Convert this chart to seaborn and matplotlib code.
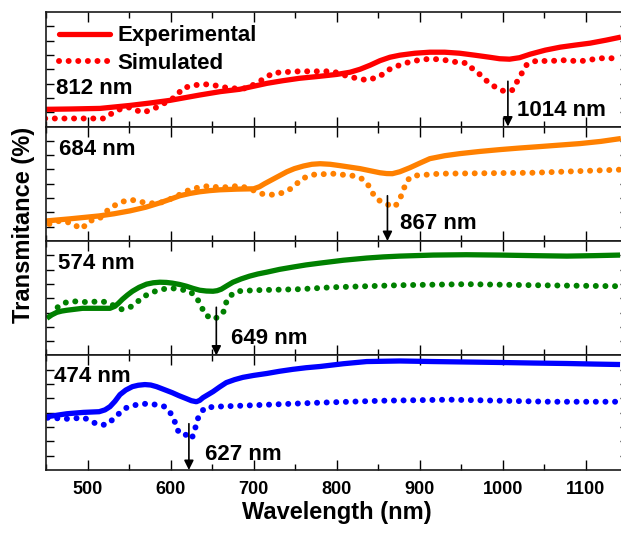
import matplotlib
matplotlib.use("Agg")
import numpy as np
import pandas as pd
import seaborn as sns
import matplotlib.pyplot as plt
from matplotlib.lines import Line2D
from matplotlib.ticker import MultipleLocator

# ---------------- data (arbitrary offset units) ----------------
# Panel 1 : 812 nm (red)
wl_exp_812 = [450, 480, 515, 551, 575, 599, 635, 660, 683, 716, 735, 755, 780, 800, 816, 828, 840, 852, 864, 876,
              894, 912, 930, 948, 966, 984, 996, 1008, 1020, 1033, 1051, 1069, 1087, 1105, 1124, 1142]
t_exp_812 = [15.0, 15.3, 15.8, 18.4, 20.5, 22.8, 27.5, 30.5, 32.5, 37.7, 40.0, 42.1, 43.9, 45.5, 47.4, 50.0, 53.5, 57.5, 60.5, 62.3,
             64.0, 64.9, 64.9, 64.0, 62.3, 60.5, 59.2, 58.8, 60.1, 63.2, 66.7, 69.3, 71.1, 72.8, 75.4, 78.1]
wl_sim_812 = [449, 470, 490, 511, 520, 527, 541, 551, 565, 571, 583, 590, 596, 607, 614, 623, 635, 647, 659, 671,
              692, 707, 716, 722, 734, 755, 795, 813, 824, 837, 852, 861, 872, 882, 892, 904, 924, 945, 957, 964,
              972, 981, 993, 1002, 1011, 1018, 1024, 1029, 1042, 1053, 1072, 1093, 1117, 1141]
t_sim_812 = [7.0, 7.0, 7.0, 7.0, 7.0, 10.5, 15.8, 16.7, 12.3, 13.2, 16.7, 19.3, 21.9, 26.3, 33.3, 35.1, 36.8, 36.8, 35.1, 33.3,
             33.3, 39.5, 43.0, 46.5, 47.4, 48.2, 48.2, 43.9, 42.1, 40.4, 43.9, 49.1, 52.6, 55.3, 57.0, 58.8, 58.8, 56.1, 55.3, 50.0,
             45.6, 39.5, 33.3, 30.7, 31.6, 40.4, 48.2, 54.4, 57.9, 57.0, 57.9, 57.0, 59.6, 59.6]

# Panel 2 : 684 nm (orange)
wl_exp_684 = [450, 478, 514, 532, 551, 570, 587, 600, 611, 623, 635, 647, 659, 680, 700, 707, 713, 722, 731, 740,
              749, 760, 770, 780, 792, 804, 816, 828, 840, 852, 860, 867, 876, 888, 900, 912, 930, 948, 972, 996,
              1020, 1045, 1069, 1093, 1118, 1142]
t_exp_684 = [17.5, 19.3, 21.9, 23.8, 26.3, 29.5, 33.3, 36.6, 39.5, 41.5, 43.0, 44.0, 44.7, 45.3, 45.6, 47.4, 50.0, 53.5, 57.0, 60.5,
             63.2, 65.5, 67.0, 67.5, 67.0, 65.8, 64.5, 63.2, 61.4, 59.6, 58.9, 58.8, 60.5, 64.0, 68.0, 71.9, 74.5, 76.3, 78.2, 79.8,
             81.2, 82.5, 83.8, 85.1, 87.0, 89.5]
wl_sim_684 = [454, 466, 481, 490, 493, 502, 514, 527, 541, 553, 563, 583, 595, 613, 625, 647, 659, 683, 695, 710,
              723, 735, 747, 758, 771, 795, 819, 830, 837, 842, 848, 858, 870, 876, 880, 884, 892, 924, 1036, 1141]
t_sim_684 = [14.9, 17.5, 15.8, 11.4, 10.5, 17.5, 19.3, 28.9, 34.2, 36.0, 34.2, 32.5, 35.1, 41.2, 45.6, 48.2, 46.5, 48.2, 45.6, 41.2,
             40.4, 42.1, 46.5, 54.4, 57.9, 58.8, 57.0, 54.4, 50.0, 43.0, 36.8, 32.5, 29.8, 36.8, 43.9, 52.6, 57.0, 58.8, 59.6, 62.3]

# Panel 3 : 574 nm (green)
wl_exp_574 = [451, 457, 463, 469, 475, 494, 510, 527, 533, 537, 542, 548, 554, 562, 571, 579, 587, 595, 602, 611,
              619, 627, 635, 643, 651, 656, 661, 668, 675, 685, 695, 705, 716, 731, 747, 763, 780, 808, 836, 856,
              876, 916, 956, 996, 1037, 1077, 1110, 1141]
t_exp_574 = [32.5, 35.5, 37.7, 38.8, 39.5, 41.2, 41.2, 41.2, 43.0, 45.5, 49.1, 52.8, 56.1, 59.5, 62.3, 63.5, 64.0, 63.8, 63.2, 62.0,
             60.5, 58.6, 57.0, 56.3, 56.1, 56.6, 57.9, 61.0, 64.0, 66.9, 69.3, 71.2, 72.8, 75.2, 77.2, 79.1, 80.7, 83.2, 85.1, 86.1,
             86.8, 87.7, 88.0, 87.7, 87.2, 86.8, 87.2, 87.7]
wl_sim_574 = [464, 470, 481, 502, 514, 524, 533, 541, 551, 557, 566, 578, 590, 601, 611, 623, 631, 637, 641, 645,
              651, 659, 664, 667, 671, 680, 701, 755, 795, 836, 876, 957, 1036, 1141]
t_sim_574 = [42.1, 45.6, 47.4, 46.5, 47.4, 46.5, 43.0, 40.4, 42.1, 44.7, 50.9, 55.3, 57.9, 58.8, 57.9, 56.1, 50.9, 43.0, 36.0, 34.2,
             31.6, 34.2, 38.6, 46.5, 51.8, 56.1, 57.0, 57.9, 59.6, 60.5, 61.4, 62.3, 61.4, 60.5]

# Panel 4 : 474 nm (blue)
wl_exp_474 = [451, 475, 495, 514, 521, 527, 533, 539, 546, 554, 561, 569, 576, 583, 592, 602, 610, 619, 625, 631,
              635, 639, 645, 651, 659, 667, 677, 687, 700, 716, 731, 747, 763, 780, 808, 836, 876, 916, 956, 996,
              1037, 1077, 1110, 1141]
t_exp_474 = [46.5, 49.1, 50.3, 50.9, 52.5, 55.3, 60.0, 65.8, 69.8, 72.8, 74.0, 74.6, 74.2, 72.8, 70.3, 67.5, 64.9, 62.3, 60.5, 59.6,
             60.8, 63.2, 65.8, 68.4, 72.5, 76.3, 78.9, 80.9, 82.6, 84.3, 86.2, 87.9, 89.3, 90.4, 92.8, 94.7, 95.2, 94.7, 94.3, 93.9,
             93.4, 93.0, 92.5, 92.1]
wl_sim_474 = [452, 475, 496, 505, 514, 523, 530, 539, 547, 559, 571, 583, 593, 599, 605, 608, 613, 619, 625, 629,
              631, 635, 641, 655, 716, 780, 855, 936, 996, 1057, 1141]
t_sim_474 = [45.6, 44.7, 45.6, 42.1, 39.5, 39.5, 43.9, 50.0, 54.4, 57.0, 57.9, 57.0, 55.3, 50.9, 42.1, 35.1, 30.7, 30.7, 27.2, 33.3,
             42.1, 48.2, 54.4, 55.3, 57.0, 58.8, 60.5, 61.4, 60.5, 59.6, 59.6]

panel_labels = ["812 nm", "684 nm", "574 nm", "474 nm"]
peak_labels = ["1014 nm", "867 nm", "649 nm", "627 nm"]
peak_pos = [1006, 861, 655, 622]
colors = ["#FF0000", "#FF8000", "#008000", "#0000FF"]
legend_labels = ["Experimental", "Simulated"]
x_ticks = [500, 600, 700, 800, 900, 1000, 1100]

# ---------------- style ----------------
sns.set_style("ticks")
plt.rcParams["font.family"] = ["Liberation Sans", "DejaVu Sans"]
plt.rcParams["font.weight"] = "bold"
plt.rcParams["axes.labelweight"] = "bold"
plt.rcParams["text.color"] = "black"
plt.rcParams["axes.labelcolor"] = "black"
plt.rcParams["xtick.color"] = "black"
plt.rcParams["ytick.color"] = "black"
plt.rcParams["axes.edgecolor"] = "black"

fig, axes = plt.subplots(4, 1, figsize=(6.21, 5.34), dpi=100, sharex=True)
fig.subplots_adjust(left=0.0741, right=1.0105, top=0.9775, bottom=0.1199, hspace=0)

exp_sets = [(wl_exp_812, t_exp_812), (wl_exp_684, t_exp_684), (wl_exp_574, t_exp_574), (wl_exp_474, t_exp_474)]
sim_sets = [(wl_sim_812, t_sim_812), (wl_sim_684, t_sim_684), (wl_sim_574, t_sim_574), (wl_sim_474, t_sim_474)]
arrow_tops = [39.5, 39.5, 42.1, 40.4]
peak_text_pos = [(1017, 14.0), (876, 14.9), (673, 14.9), (641, 13.2)]
label_pos = [(462, 33.3), (466, 79.8), (465, 80.7), (460, 81.6)]

dot_style = (0, (0.01, 1.6))
exp_lw = 3.8
sim_lw = 4.3

for i, ax in enumerate(axes):
    c = colors[i]
    wl_s, t_s = sim_sets[i]
    wl_e, t_e = exp_sets[i]
    sns.lineplot(x=wl_s, y=t_s, ax=ax, color=c, linewidth=sim_lw, linestyle=dot_style,
                 dash_capstyle="round", estimator=None, sort=False)
    sns.lineplot(x=wl_e, y=t_e, ax=ax, color=c, linewidth=exp_lw, estimator=None, sort=False,
                 solid_capstyle="butt", solid_joinstyle="round")
    ax.set_xlim(450, 1150)
    ax.set_ylim(0, 100)
    ax.set_xticks(x_ticks)
    ax.xaxis.set_minor_locator(MultipleLocator(50))
    ax.set_yticks(np.arange(12.5, 100, 12.5))
    ax.tick_params(axis="x", which="major", direction="in", length=7, width=1.0, top=True, bottom=True,
                   labelbottom=(i == 3), labelsize=13, pad=8)
    ax.tick_params(axis="x", which="minor", direction="in", length=4, width=1.0, top=True, bottom=True)
    ax.tick_params(axis="y", which="major", direction="in", length=6, width=1.0, left=True, right=True,
                   labelleft=False)
    for sp in ax.spines.values():
        sp.set_linewidth(1.2)
        sp.set_color("#1a1a1a")
    ax.set_ylabel("")
    # arrow to the dip
    ax.annotate("", xy=(peak_pos[i], 0), xytext=(peak_pos[i], arrow_tops[i]),
                arrowprops=dict(arrowstyle="-|>", color="black", lw=1.2, mutation_scale=14,
                                shrinkA=0, shrinkB=0))
    ax.text(peak_text_pos[i][0], peak_text_pos[i][1], peak_labels[i], fontsize=16, fontweight="bold",
            ha="left", va="center", color="black")
    ax.text(label_pos[i][0], label_pos[i][1], panel_labels[i], fontsize=16, fontweight="bold",
            ha="left", va="center", color="black")

# legend in top panel
handles = [Line2D([], [], color=colors[0], linewidth=exp_lw),
           Line2D([], [], color=colors[0], linewidth=sim_lw, linestyle=dot_style, dash_capstyle="round")]
leg = axes[0].legend(handles, legend_labels, loc="upper left", bbox_to_anchor=(0.0, 1.0),
                     frameon=False, fontsize=16, handlelength=2.3, handletextpad=0.3,
                     labelspacing=0.3, borderpad=0.3, borderaxespad=0.3)
for t in leg.get_texts():
    t.set_fontweight("bold")
    t.set_color("black")

axes[3].set_xlabel("Wavelength (nm)", fontsize=17, fontweight="bold", labelpad=2, color="black")
fig.text(24 / 621, 1 - 225 / 534, "Transmitance (%)", rotation=90, ha="center", va="center",
         fontsize=17, fontweight="bold", color="black")

fig.savefig("out.png", dpi=100, facecolor="white")
